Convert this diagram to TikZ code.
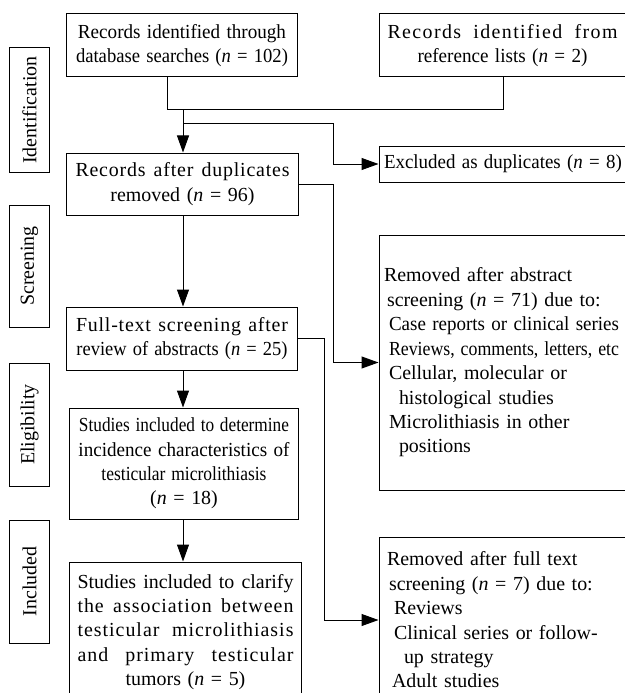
\documentclass[tikz,border=0pt]{standalone}
\usepackage{fontspec}
\setmainfont{Liberation Serif}
\usetikzlibrary{arrows.meta,positioning}

\newcommand{\nn}{\textit{n}}
\newcommand{\sq}[2]{\resizebox{#1}{\height}{#2}}
\newcommand{\jl}[3][2]{\makebox[#2][s]{\addfontfeature{LetterSpace=#1}\spaceskip=0.25em plus 10em\relax #3}}

\begin{document}
\begin{tikzpicture}[x=1bp,y=-1bp,>={Triangle[length=17bp,width=12bp]},line width=1bp,
  box/.style={draw,inner xsep=5bp,inner ysep=0bp,align=center,font=\fontsize{20}{24.5}\selectfont},
  lbox/.style={box,align=left},
  sidelabel/.style={draw,rotate=90,inner sep=0bp,minimum height=39bp,font=\fontsize{20}{24}\selectfont}]
  \useasboundingbox (0,0) rectangle (625,693);
%%
  % Node: side labels
  \node [sidelabel,minimum width=124bp] (ident) at (29.5,110) {Identification};
  \node [sidelabel,minimum width=122bp] (screen) at (29.5,266) {Screening};
  \node [sidelabel,minimum width=123bp] (elig) at (29.5,424.5) {Eligibility};
  \node [sidelabel,minimum width=123bp] (incl) at (29.5,581.5) {Included};
  % Node: db
  \node [box,text width=220bp,minimum height=63bp] (db) at (182,45.5)
    {\sq{208bp}{Records identified through}\\ \sq{212bp}{database searches (\nn{} = 102)}};
  % Node: refl
  \node [box,text width=237bp,minimum height=63bp] (refl) at (502.5,45.5)
    {\jl[7]{230bp}{Records identified from}\\ \sq{170bp}{reference lists (\nn{} = 2)}};
  % Node: dedup
  \node [box,text width=221bp,minimum height=62bp] (dedup) at (182.5,184)
    {\jl[4]{214bp}{Records after duplicates}\\ removed (\nn{} = 96)};
  % Node: excl
  \node [box,text width=237bp,minimum height=36bp] (excl) at (502.5,164)
    {\sq{238bp}{Excluded as duplicates (\nn{} = 8)}};
  % Node: fulltext
  \node [box,text width=220bp,minimum height=63bp] (fulltext) at (182,338.5)
    {\jl[4]{212bp}{Full-text screening after}\\ \sq{211bp}{review of abstracts (\nn{} = 25)}};
  % Node: abstr
  \node [lbox,text width=237bp,minimum height=255bp] (abstr) at (502.5,362.5)
    {Removed after abstract\\
     \hspace{3bp}screening (\nn{} = 71) due to:\\
     \hspace{5bp}\sq{230bp}{Case reports or clinical series}\\
     \hspace{5bp}\sq{230bp}{Reviews, comments, letters, etc}\\
     \hspace{5bp}Cellular, molecular or\\
     \hspace{15bp}histological studies\\
     \hspace{5bp}Microlithiasis in other\\
     \hspace{15bp}positions};
  % Node: incid
  \node [box,text width=218bp,minimum height=111bp] (incid) at (184,463.5)
    {\sq{210bp}{Studies included to determine}\\
     \sq{211bp}{incidence characteristics of}\\
     \sq{165bp}{testicular microlithiasis}\\
     (\nn{} = 18)};
  % Node: assoc
  \node [box,text width=221bp,minimum height=140bp] (assoc) at (185.5,632)
    {\jl[0]{216bp}{Studies included to clarify}\\
     \jl[5]{216bp}{the association between}\\
     \jl[5]{216bp}{testicular microlithiasis}\\
     \jl[5]{216bp}{and primary testicular}\\
     tumors (\nn{} = 5)};
  % Node: fullrm
  \node [lbox,text width=237bp,minimum height=166bp] (fullrm) at (502.5,620)
    {\hspace{3bp}Removed after full text\\
     \hspace{5bp}screening (\nn{} = 7) due to:\\
     \hspace{10bp}Reviews\\
     \hspace{10bp}Clinical series or follow-\\
     \hspace{20bp}up strategy\\
     \hspace{8bp}Adult studies};
%
  % Edge: db, refl -> dedup
  \coordinate (mL) at (167,110);
  \coordinate (mR) at (503,110);
  \coordinate (mC) at (183,110);
  \draw (db.south -| mL) -- (mL) -- (mR) -- (refl.south -| mR);
  \draw [->] (mC) -- (dedup.north -| mC);
  % Edge: -> excl
  \coordinate (bx) at (183,124);
  \coordinate (bxr) at (333,124);
  \draw [->] (bx) -- (bxr) |- (excl.west);
  % Edge: dedup -> abstr
  \coordinate (k1) at (333,184);
  \draw [->] (dedup.east) -- (k1) |- (abstr.west);
  % Edge: dedup -> fulltext
  \draw [->] (dedup.south -| mC) -- (fulltext.north -| mC);
  % Edge: fulltext -> fullrm
  \coordinate (k2) at (324,338.5);
  \draw [->] (fulltext.east) -- (k2) |- (fullrm.west);
  % Edge: fulltext -> incid
  \draw [->] (fulltext.south -| mC) -- (incid.north -| mC);
  % Edge: incid -> assoc
  \draw [->] (incid.south -| mC) -- (assoc.north -| mC);
%
\end{tikzpicture}
\end{document}
